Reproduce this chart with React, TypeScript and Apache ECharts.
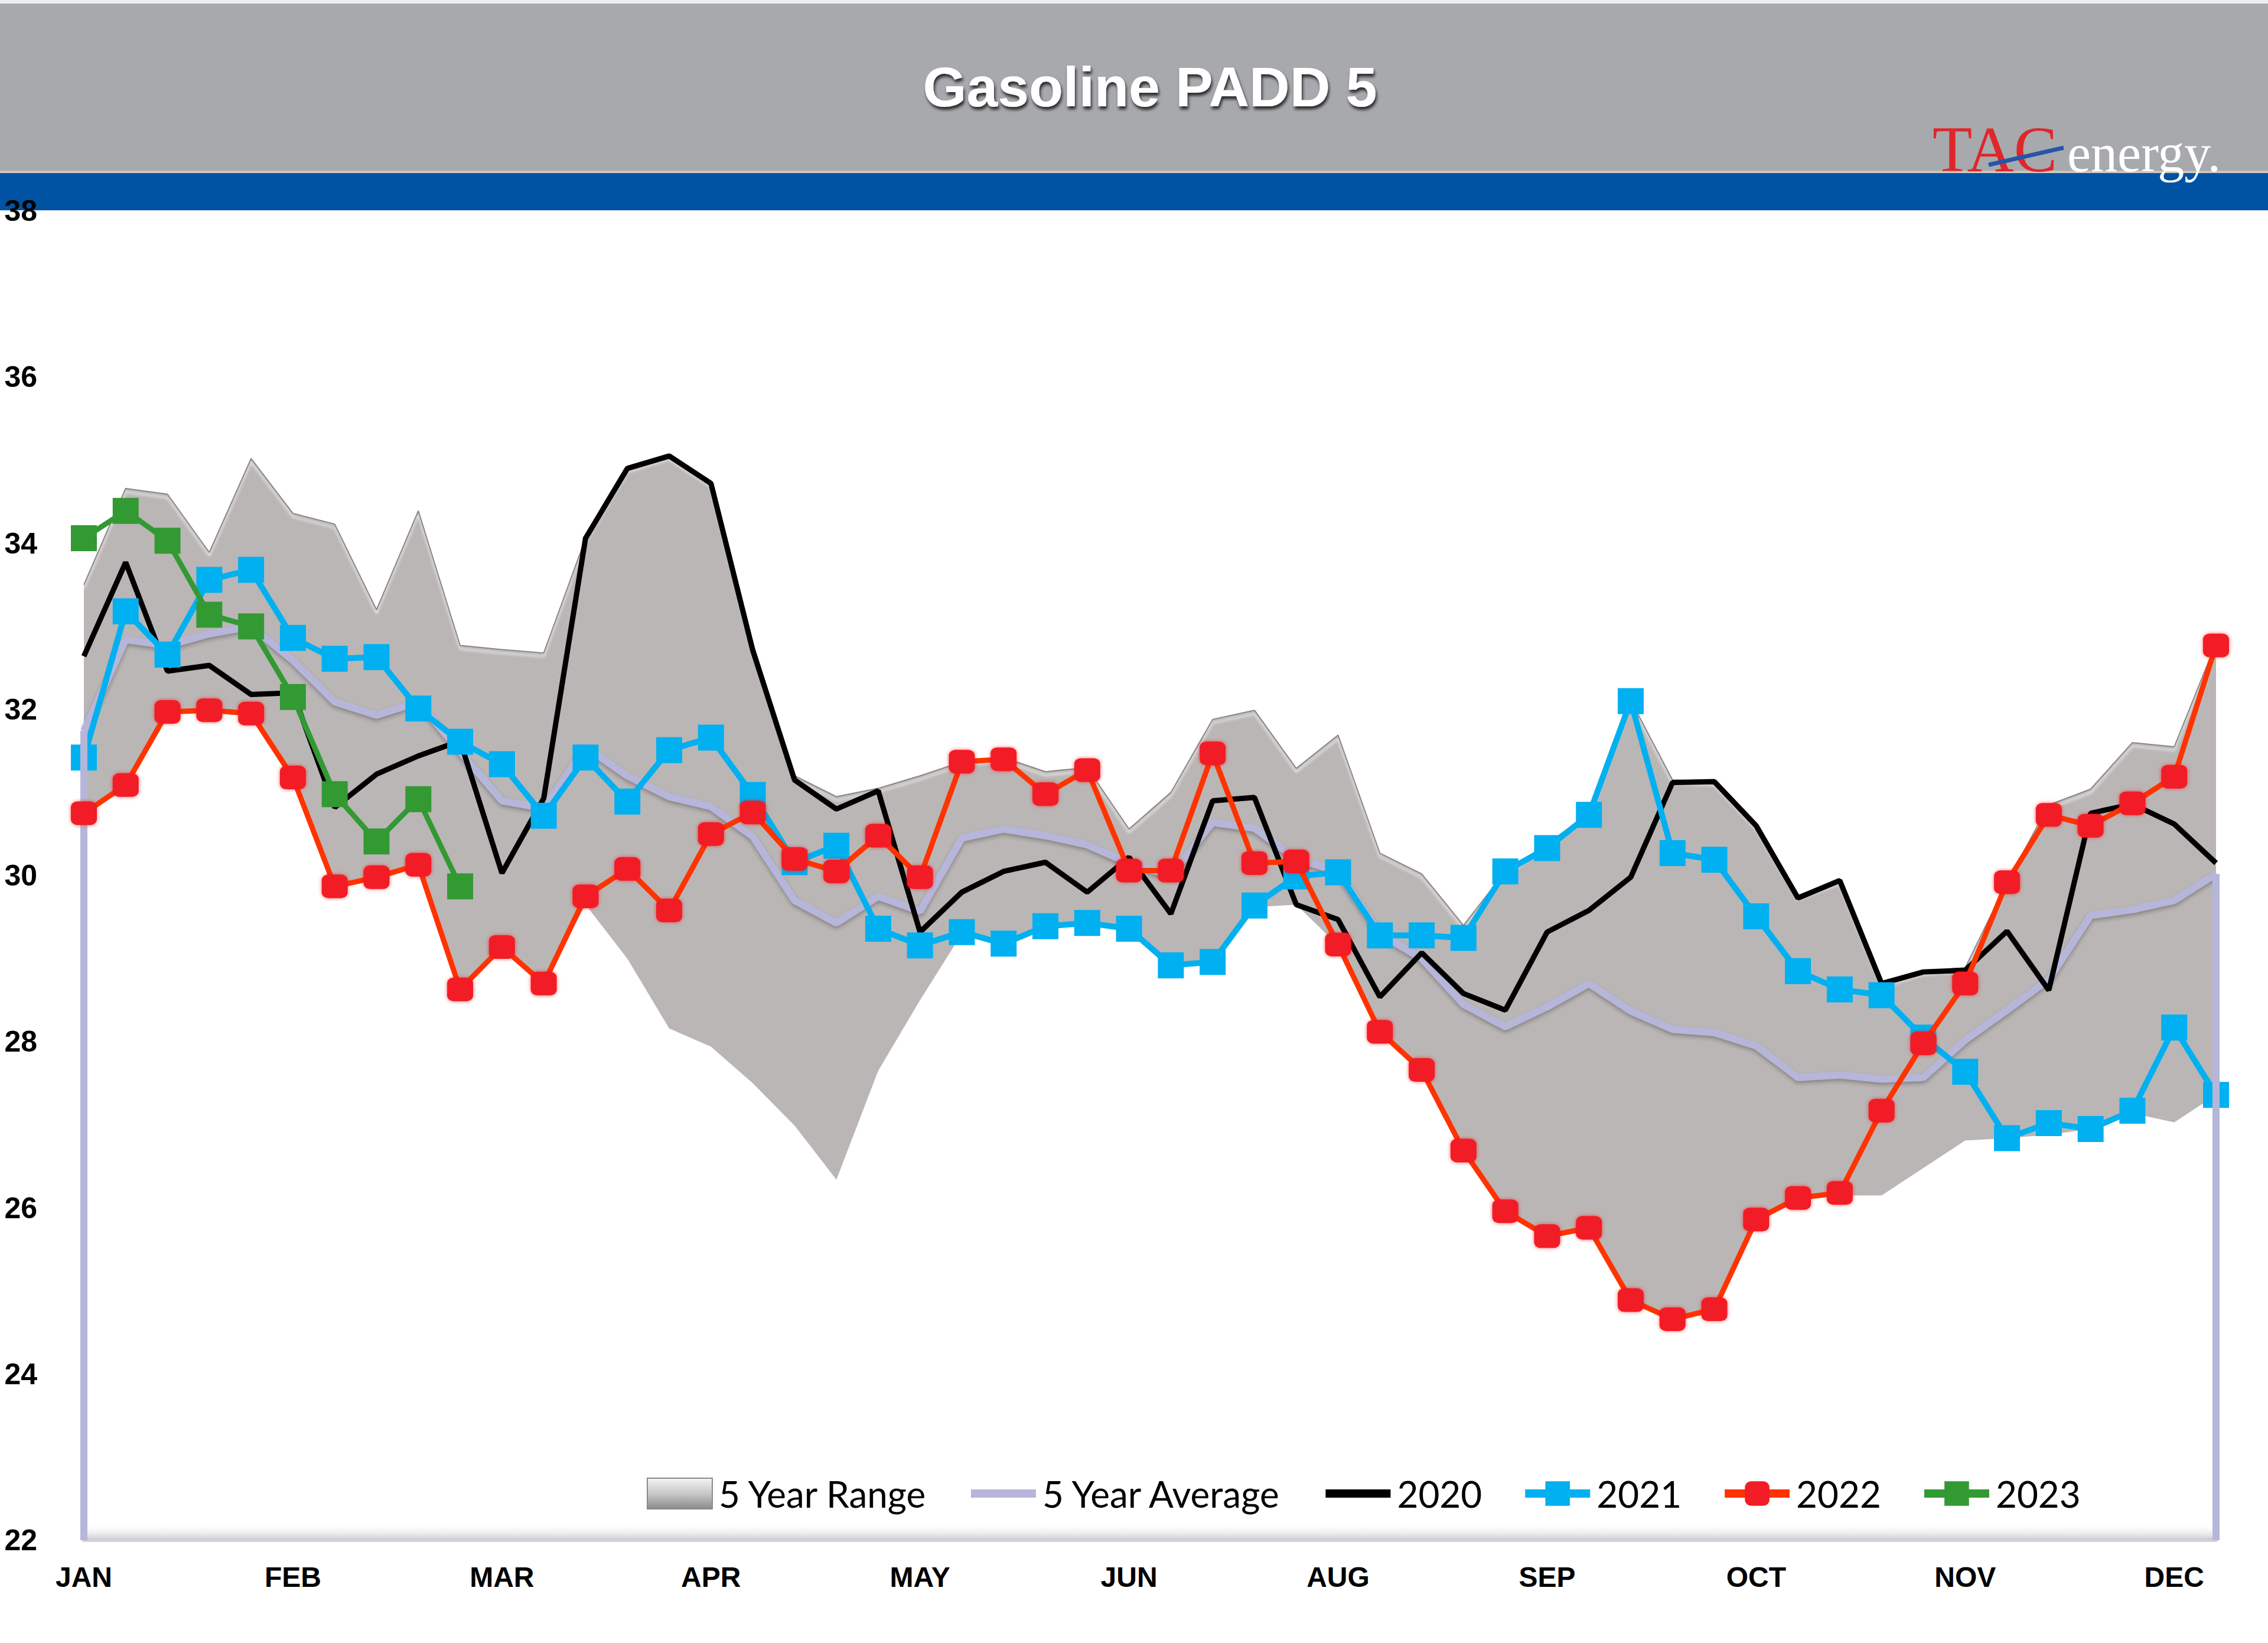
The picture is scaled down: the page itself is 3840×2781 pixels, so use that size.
import React, { useEffect, useRef } from "react";
import * as echarts from "echarts";

const weeks: string[] = Array.from({ length: 52 }, (_, i) => `W${i + 1}`);
const monthTicks = ["JAN", "FEB", "MAR", "APR", "MAY", "JUN", "AUG", "SEP", "OCT", "NOV", "DEC"];

const rangeLow = [30.75, 31.09, 31.97, 31.99, 31.95, 31.18, 29.87, 29.98, 30.13, 28.63,
  29.14, 28.7, 29.65, 29.0, 28.16, 27.94, 27.5, 26.99, 26.34, 27.65,
  28.5, 29.3, 29.18, 29.37, 29.43, 29.36, 28.92, 28.96, 29.62, 29.65,
  29.16, 28.12, 27.66, 26.69, 25.96, 25.66, 25.76, 24.89, 24.66, 24.77,
  25.86, 26.12, 26.15, 26.15, 26.48, 26.81, 26.84, 26.88, 26.95, 27.14,
  27.03, 27.36];
const rangeHigh = [33.5, 34.66, 34.59, 33.89, 35.02, 34.36, 34.23, 33.2, 34.39, 32.77,
  32.72, 32.68, 34.06, 34.9, 35.05, 34.72, 32.8, 31.2, 30.95, 31.05,
  31.2, 31.37, 31.42, 31.25, 31.3, 30.56, 31.0, 31.88, 31.99, 31.29,
  31.69, 30.27, 30.02, 29.4, 30.05, 30.38, 30.75, 32.11, 31.15, 31.13,
  30.6, 29.76, 29.94, 28.7, 28.85, 28.89, 29.92, 30.85, 31.04, 31.6,
  31.55, 32.8];
const avg5 = [31.74, 32.84, 32.77, 32.91, 33.0, 32.59, 32.09, 31.93, 32.09, 31.49,
  30.9, 30.81, 31.55, 31.2, 30.95, 30.83, 30.47, 29.7, 29.43, 29.75,
  29.57, 30.45, 30.56, 30.48, 30.37, 30.15, 30.0, 30.64, 30.57, 30.2,
  30.05, 29.3, 29.0, 28.45, 28.18, 28.42, 28.7, 28.37, 28.15, 28.11,
  27.95, 27.57, 27.6, 27.55, 27.57, 28.02, 28.38, 28.75, 29.52, 29.59,
  29.7, 30.02];
const y2020 = [32.64, 33.77, 32.46, 32.53, 32.18, 32.2, 30.82, 31.22, 31.44, 31.62,
  30.03, 30.93, 34.06, 34.9, 35.05, 34.72, 32.71, 31.15, 30.8, 31.02,
  29.32, 29.8, 30.05, 30.16, 29.8, 30.22, 29.54, 30.9, 30.94, 29.65,
  29.47, 28.54, 29.07, 28.58, 28.38, 29.32, 29.58, 29.98, 31.12, 31.13,
  30.6, 29.73, 29.94, 28.7, 28.84, 28.86, 29.33, 28.62, 30.75, 30.86,
  30.62, 30.15];
const y2021 = [31.42, 33.18, 32.66, 33.56, 33.68, 32.86, 32.61, 32.63, 32.01, 31.61,
  31.34, 30.72, 31.42, 30.89, 31.51, 31.66, 30.97, 30.16, 30.36, 29.36,
  29.16, 29.32, 29.18, 29.39, 29.43, 29.36, 28.92, 28.96, 29.64, 29.99,
  30.04, 29.28, 29.28, 29.25, 30.05, 30.33, 30.73, 32.1, 30.27, 30.19,
  29.51, 28.85, 28.63, 28.56, 28.05, 27.64, 26.84, 27.02, 26.95, 27.17,
  28.17, 27.36];
const y2022 = [30.75, 31.09, 31.97, 31.99, 31.95, 31.18, 29.87, 29.98, 30.13, 28.63,
  29.14, 28.7, 29.75, 30.08, 29.58, 30.5, 30.76, 30.2, 30.05, 30.48,
  29.98, 31.37, 31.4, 30.98, 31.27, 30.06, 30.06, 31.47, 30.15, 30.17,
  29.17, 28.12, 27.66, 26.69, 25.96, 25.66, 25.76, 24.89, 24.66, 24.78,
  25.86, 26.12, 26.18, 27.17, 27.98, 28.7, 29.92, 30.73, 30.6, 30.87,
  31.19, 32.77];
const y2023 = [34.06, 34.39, 34.03, 33.14, 33.0, 32.15, 30.98, 30.41, 30.92, 29.87];

const yMin = 22;
const yMax = 38;

export default function App() {
  const ref = useRef<HTMLDivElement>(null);

  useEffect(() => {
    if (!ref.current) return;
    const chart = echarts.init(ref.current, undefined, { renderer: "svg" });
    const rangeSpan = rangeHigh.map((v, i) => +(v - rangeLow[i]).toFixed(3));
    const lav = "#b6b6da";

    const option: any = {
      animation: false,
      backgroundColor: "#ffffff",
      grid: { left: 142, right: 88, top: 357, bottom: 174, containLabel: false },
      xAxis: {
        type: "category",
        data: weeks,
        boundaryGap: false,
        axisLine: { show: true, lineStyle: { color: "#d2d2dc", width: 6 } },
        axisTick: { show: false },
        splitLine: { show: false },
        axisLabel: {
          interval: (idx: number) => idx % 5 === 0,
          formatter: (v: string) => {
            const idx = weeks.indexOf(v);
            return monthTicks[idx / 5] || "";
          },
          margin: 38,
          fontSize: 48,
          fontWeight: "bold",
          fontFamily: "Liberation Sans",
          color: "#000",
        },
      },
      yAxis: {
        type: "value",
        min: yMin,
        max: yMax,
        interval: 2,
        z: 20,
        axisLine: { show: false },
        axisTick: { show: false },
        splitLine: { show: false },
        axisLabel: {
          margin: 79,
          fontSize: 50,
          fontWeight: "bold",
          fontFamily: "Liberation Sans",
          color: "#000",
        },
      },
      legend: {
        left: 1095,
        top: 2497,
        padding: 0,
        itemGap: 66,
        itemWidth: 110,
        itemHeight: 52,
        textStyle: { fontSize: 62, fontFamily: "Lato", color: "#000", padding: [0, 0, 0, 6] },
        data: [
          {
            name: "5 Year Range",
            icon: "rect",
            itemStyle: {
              color: new echarts.graphic.LinearGradient(0, 0, 0, 1, [
                { offset: 0, color: "#f4f4f4" },
                { offset: 0.5, color: "#c8c8c8" },
                { offset: 1, color: "#8a8a8a" },
              ]),
              borderColor: "#8a8a8a",
              borderWidth: 2,
            },
          },
          { name: "5 Year Average", itemStyle: { opacity: 0 }, lineStyle: { width: 14, color: lav } },
          { name: "2020", itemStyle: { opacity: 0 }, lineStyle: { width: 14, color: "#000" } },
          { name: "2021", lineStyle: { width: 14, color: "#00b0f0" } },
          { name: "2022", lineStyle: { width: 14, color: "#ff3300" } },
          { name: "2023", lineStyle: { width: 14, color: "#339933" } },
        ],
      },
      series: [
        {
          name: "rangeBase",
          type: "line",
          stack: "range",
          data: rangeLow,
          symbol: "none",
          lineStyle: { opacity: 0 },
          silent: true,
          z: 1,
        },
        {
          name: "5 Year Range",
          type: "line",
          stack: "range",
          data: rangeSpan,
          symbol: "none",
          lineStyle: {
            color: "#8a8686",
            width: 2,
            shadowColor: "rgba(255,255,255,0.95)",
            shadowBlur: 4,
            shadowOffsetY: 6,
          },
          itemStyle: { color: "#bab6b5" },
          areaStyle: { color: "#bab6b5", opacity: 1 },
          silent: true,
          z: 1,
        },
        {
          name: "5 Year Average",
          type: "line",
          data: avg5,
          symbol: "none",
          clip: false,
          lineStyle: {
            color: lav,
            width: 12,
            shadowColor: "rgba(40,40,40,0.35)",
            shadowBlur: 6,
            shadowOffsetY: 4,
          },
          itemStyle: { color: lav },
          markLine: {
            silent: true,
            symbol: "none",
            label: { show: false },
            lineStyle: { color: lav, width: 12, type: "solid" },
            data: [
              [{ coord: [weeks[0], yMin] }, { coord: [weeks[0], avg5[0]] }],
              [{ coord: [weeks[51], yMin] }, { coord: [weeks[51], avg5[51]] }],
            ],
          },
          z: 2,
        },
        {
          name: "2020",
          type: "line",
          data: y2020,
          symbol: "none",
          clip: false,
          lineStyle: { color: "#000000", width: 9 },
          itemStyle: { color: "#000000" },
          z: 3,
        },
        {
          name: "2021",
          type: "line",
          data: y2021,
          symbol: "rect",
          symbolSize: 44,
          clip: false,
          lineStyle: { color: "#00b0f0", width: 10 },
          itemStyle: { color: "#00b0f0" },
          z: 4,
        },
        {
          name: "2022",
          type: "line",
          data: y2022,
          symbol: "roundRect",
          symbolSize: [44, 40],
          clip: false,
          lineStyle: { color: "#ff3300", width: 9 },
          itemStyle: {
            color: "#f21d26",
            shadowColor: "rgba(255,0,0,0.6)",
            shadowBlur: 6,
          },
          z: 5,
        },
        {
          name: "2023",
          type: "line",
          data: y2023,
          symbol: "rect",
          symbolSize: 44,
          clip: false,
          lineStyle: { color: "#339933", width: 9 },
          itemStyle: { color: "#339933" },
          z: 6,
        },
      ],
      graphic: [
        {
          type: "rect",
          z: 1,
          shape: { x: 142, y: 2578, width: 3610, height: 28 },
          style: {
            fill: new echarts.graphic.LinearGradient(0, 0, 0, 1, [
              { offset: 0, color: "rgba(255,255,255,0)" },
              { offset: 1, color: "rgba(200,200,205,0.9)" },
            ]),
          },
          silent: true,
        },
        {
          type: "rect",
          z: 1,
          shape: { x: 0, y: 0, width: 3840, height: 6 },
          style: { fill: "#eeeeee" },
          silent: true,
        },
        {
          type: "rect",
          z: 1,
          shape: { x: 0, y: 6, width: 3840, height: 285 },
          style: { fill: "#a7a9ac" },
          silent: true,
        },
        {
          type: "rect",
          z: 1,
          shape: { x: 0, y: 289, width: 3840, height: 5 },
          style: { fill: "#cdc6bf" },
          silent: true,
        },
        {
          type: "rect",
          z: 1,
          shape: { x: 0, y: 293, width: 3840, height: 63 },
          style: { fill: "#0053a2" },
          silent: true,
        },
        {
          type: "text",
          z: 2,
          x: 1947,
          y: 147,
          style: {
            text: "Gasoline PADD 5",
            fill: "#ffffff",
            font: "bold 95px 'Liberation Sans', Arial, sans-serif",
            align: "center",
            verticalAlign: "middle",
            textAlign: "center",
            textVerticalAlign: "middle",
            textShadowColor: "rgba(0,0,0,0.75)",
            textShadowBlur: 5,
            textShadowOffsetX: 2,
            textShadowOffsetY: 5,
          },
          silent: true,
        },
        {
          type: "text",
          z: 2,
          x: 3272,
          y: 253,
          style: {
            text: "TAC",
            fill: "#e0262b",
            font: "110px 'Liberation Serif', 'Times New Roman', serif",
            align: "left",
            verticalAlign: "middle",
            textAlign: "left",
            textVerticalAlign: "middle",
          },
          silent: true,
        },
        {
          type: "text",
          z: 2,
          x: 3500,
          y: 259,
          style: {
            text: "energy.",
            fill: "#ffffff",
            font: "90px 'Liberation Serif', 'Times New Roman', serif",
            align: "left",
            verticalAlign: "middle",
            textAlign: "left",
            textVerticalAlign: "middle",
          },
          silent: true,
        },
        {
          type: "line",
          z: 3,
          shape: { x1: 3367, y1: 279, x2: 3494, y2: 250 },
          style: { stroke: "#2456a8", lineWidth: 7 },
          silent: true,
        },
      ],
    };

    chart.setOption(option);
    return () => chart.dispose();
  }, []);

  return (
    <div
      ref={ref}
      style={{ position: "absolute", left: 0, top: 0, width: 3840, height: 2781 }}
    />
  );
}
